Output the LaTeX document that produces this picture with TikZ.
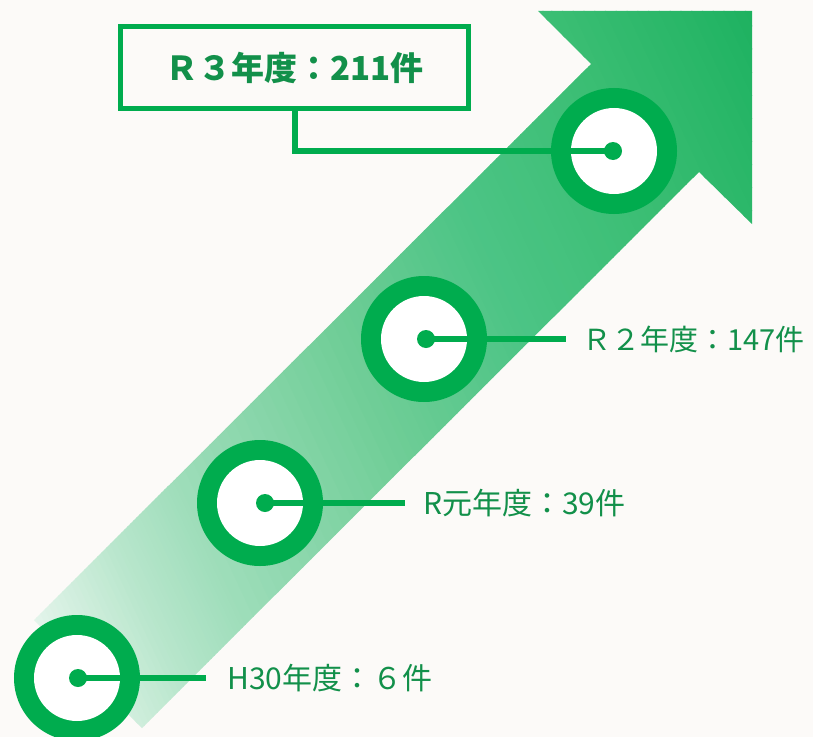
\documentclass[tikz,border=0pt]{standalone}
\usepackage{fontspec}
\newfontfamily\jp{Noto Sans CJK JP}
\definecolor{ringg}{HTML}{00AC4E}
\definecolor{txtg}{HTML}{12904A}
\definecolor{bgc}{HTML}{FCFAF8}
\definecolor{s0}{RGB}{232,246,238}
\definecolor{s1}{RGB}{184,230,204}
\definecolor{s2}{RGB}{158,221,186}
\definecolor{s3}{RGB}{110,205,150}
\definecolor{s4}{RGB}{76,196,133}
\definecolor{s5}{RGB}{59,190,116}
\definecolor{s6}{RGB}{28,177,95}
\newcommand\gradseg[4]{%
  \foreach \k in {0,...,19}{%
    \pgfmathsetmacro\pa{#1+(#2-#1)*\k/20}%
    \pgfmathsetmacro\pb{#1+(#2-#1)*(\k+1)/20+1}%
    \pgfmathtruncatemacro\pc{100-(\k+0.5)*5}%
    \colorlet{bandc}{#3!\pc!#4}%
    \fill[bandc] (\pa,-1500) rectangle (\pb,1500);
  }}
\tikzset{
  ringc/.style={circle, fill=ringg, minimum size=126bp, inner sep=0pt},
  holec/.style={circle, fill=white, minimum size=86bp, inner sep=0pt},
  dotc/.style={circle, fill=ringg, minimum size=18bp, inner sep=0pt},
  conn/.style={draw=ringg, line width=6bp},
  lbl/.style={font=\jp\fontsize{29bp}{34bp}\selectfont, text=txtg, anchor=west, inner sep=0pt},
  lblw/.style={lbl, font=\jp\fontsize{30bp}{35bp}\selectfont},
  titlebox/.style={draw=ringg, line width=5.5bp, outer sep=0pt, minimum width=348bp, minimum height=82bp,
    font=\jp\bfseries\fontsize{33bp}{38bp}\selectfont, text=txtg, inner sep=0pt},
}
\begin{document}
\begin{tikzpicture}[x=1bp,y=-1bp]
\useasboundingbox (0,0) rectangle (813,737);
\fill[bgc] (0,0) rectangle (813,737);
% arrow with gradient
\begin{scope}
  \clip (34,620) -- (591,64) -- (538,11) -- (752,11) -- (752,224) -- (699,172) -- (142,728) -- cycle;
  \begin{scope}[rotate=25]
    \gradseg{-240}{-124}{s0}{s1}
    \gradseg{-124}{-42}{s1}{s2}
    \gradseg{-42}{176}{s2}{s3}
    \gradseg{176}{334}{s3}{s4}
    \gradseg{334}{495}{s4}{s5}
    \gradseg{495}{690}{s5}{s6}
  \end{scope}
\end{scope}
% rings
\node[ringc] (r1) at (614,151) {};
\node[holec] (h1) at (614,151) {};
\node[ringc] (r2) at (424,339) {};
\node[holec] (h2) at (424,339) {};
\node[ringc] (r3) at (260,503) {};
\node[holec] (h3) at (260,503) {};
\node[ringc] (r4) at (77,678) {};
\node[holec] (h4) at (77,678) {};
% box
\node[titlebox] (b) at (294.5,67.5) {Ｒ３年度：211件};
% label ends
\coordinate (e2) at (566,339);
\coordinate (e3) at (405,503);
\coordinate (e4) at (206,678);
% labels
\node[lbl] (t2) at (582,339) {Ｒ２年度：147件};
\node[lblw] (t3) at (423,503) {R元年度：39件};
\node[lblw] (t4) at (227,678) {H30年度：６件};
% dots
\coordinate (d1) at (613,151);
\coordinate (d2) at (426,339);
\coordinate (d3) at (265,503);
\coordinate (d4) at (78,678);
\draw[conn] (d1) -| (b.south);
\draw[conn] (d2) -- (e2);
\draw[conn] (d3) -- (e3);
\draw[conn] (d4) -- (e4);
\node[dotc] (p1) at (d1) {};
\node[dotc] (p2) at (d2) {};
\node[dotc] (p3) at (d3) {};
\node[dotc] (p4) at (d4) {};
\end{tikzpicture}
\end{document}
